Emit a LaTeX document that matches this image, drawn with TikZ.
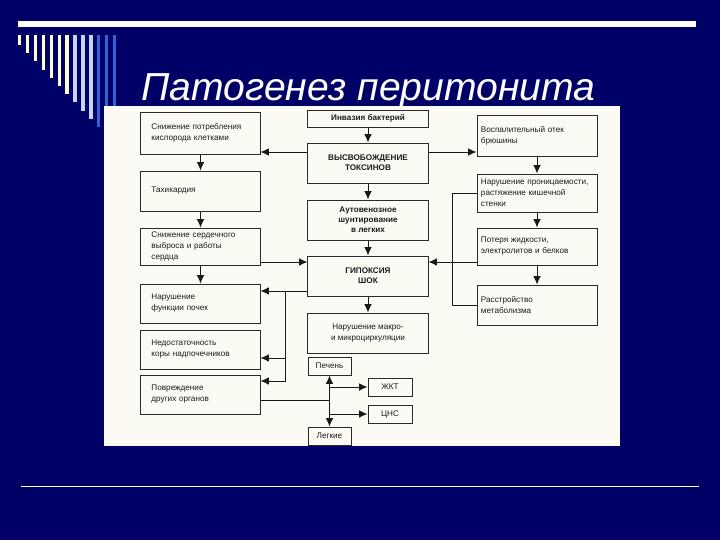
\documentclass[tikz,border=0pt]{standalone}
\usepackage{fontspec}
\setmainfont{Liberation Sans}
\usepackage{xcolor}
\usepackage{tikz}
\usetikzlibrary{arrows.meta}
\definecolor{navy}{HTML}{000066}
\definecolor{paper}{HTML}{FBFBF4}
\definecolor{creamBar}{HTML}{FFFFCC}
\definecolor{paleBlue}{HTML}{C8D4F4}
\definecolor{midBlue}{HTML}{2F63D8}
\definecolor{ink}{HTML}{1A1A1A}
\definecolor{rim}{HTML}{2A2A2A}
\tikzset{
  sbox/.style={draw=rim, line width=0.7pt, fill=paper, align=left, text width=2.45cm, inner xsep=0.2625cm,
    inner ysep=1pt, font=\fontsize{5.8}{7.8}\selectfont, text=ink},
  rbox/.style={sbox, text width=2.8cm, inner xsep=0.1cm},
  cbox/.style={draw=rim, line width=0.7pt, fill=paper, align=center, minimum width=3cm, inner sep=1pt,
    font=\fontsize{5.8}{7.2}\selectfont\bfseries, text=ink},
  tbox/.style={cbox, minimum width=1.1cm, minimum height=0.45cm, font=\fontsize{5.8}{7}\selectfont},
  arr/.style={-{Latex[length=6pt, width=5.5pt]}, draw=ink, line width=0.7pt},
  link/.style={draw=ink, line width=0.7pt},
}

\begin{document}
\begin{tikzpicture}[x=0.025cm, y=-0.025cm]
  % ---- slide: background, bars, stripes, title
  \fill[navy] (0,0) rectangle (720,540);
  \useasboundingbox (0,0) rectangle (720,540);
  \fill[white] (18,21) rectangle (696,26.5);
  \foreach \i/\c in {0/creamBar, 1/creamBar, 2/creamBar, 3/creamBar, 4/creamBar, 5/creamBar, 6/creamBar,
      7/paleBlue, 8/paleBlue, 9/paleBlue, 10/midBlue, 11/midBlue, 12/midBlue}
    \fill[\c] ({18+7.9*\i},35) rectangle ({21.4+7.9*\i},{45+8.2*\i});
  \node[anchor=base west, text=white, inner sep=0, font=\fontsize{27.8}{33}\selectfont\itshape] (title) at (141,100)
    {Патогенез перитонита};
  \fill[paper] (104,106) rectangle (620,446);
  \fill[white] (21,485.5) rectangle (699,487);
  % ---- left column
  \node[sbox, minimum height=1.05cm] (kisl) at (200.5,133) {Снижение потребления\\кислорода клетками};
  \node[sbox, minimum height=1cm] (tahi) at (200.5,191) {Тахикардия};
  \node[sbox, minimum height=0.925cm] (serd) at (200.5,246.5) {Снижение сердечного\\выброса и работы\\сердца};
  \node[sbox, minimum height=0.975cm] (poch) at (200.5,303.5) {Нарушение\\функции почек};
  \node[sbox, minimum height=0.975cm] (nadp) at (200.5,349.5) {Недостаточность\\коры надпочечников};
  \node[sbox, minimum height=0.975cm] (povr) at (200.5,394.5) {Повреждение\\других органов};
  % ---- middle column
  \node[cbox, minimum height=0.425cm] (inv) at (368,118.5) {Инвазия бактерий};
  \node[cbox, minimum height=1cm] (tox) at (368,163) {ВЫСВОБОЖДЕНИЕ\\ТОКСИНОВ};
  \node[cbox, minimum height=1cm] (auto) at (368,220) {Аутовенозное\\шунтирование\\в легких};
  \node[cbox, minimum height=1cm] (gip) at (368,276) {ГИПОКСИЯ\\ШОК};
  \node[cbox, minimum height=1cm, font=\fontsize{5.8}{7.8}\selectfont] (micro) at (368,333)
    {Нарушение макро-\\и микроциркуляции};
  \node[tbox, minimum width=1.075cm] (pech) at (329.5,366) {Печень};
  \node[tbox] (gkt) at (390,387) {ЖКТ};
  \node[tbox] (cns) at (390,414) {ЦНС};
  \node[tbox, minimum width=1.075cm] (legk) at (329.5,436) {Легкие};
  % ---- right column
  \node[rbox, minimum height=1.025cm] (otek) at (537,135.5) {Воспалительный отек\\брюшины};
  \node[rbox, minimum height=0.95cm] (pron) at (537,193) {Нарушение проницаемости,\\растяжение кишечной\\стенки};
  \node[rbox, minimum height=0.925cm] (poter) at (537,246.5) {Потеря жидкости,\\электролитов и белков};
  \node[rbox, minimum height=1cm] (rasstr) at (537,305) {Расстройство\\метаболизма};
  % ---- arrows
  \draw[arr] (inv) -- (tox);
  \draw[arr] (tox) -- (auto);
  \draw[arr] (auto) -- (gip);
  \draw[arr] (gip) -- (micro);
  \draw[arr] (tox.west |- 0,152) -- (kisl.east |- 0,152);
  \draw[arr] (tox.east |- 0,152) -- (otek.west |- 0,152);
  \draw[arr] (kisl) -- (tahi);
  \draw[arr] (tahi) -- (serd);
  \draw[arr] (serd) -- (poch);
  \draw[arr] (otek) -- (pron);
  \draw[arr] (pron) -- (poter);
  \draw[arr] (poter) -- (rasstr);
  \draw[arr] (serd.east |- 0,262) -- (gip.west |- 0,262);
  \draw[arr] (poter.west |- 0,262) -- (gip.east |- 0,262);
  \draw[link] (pron.west) -- ++(-24,0) |- (rasstr.west);
  \coordinate (fork) at (285,291);
  \draw[arr] (gip.west |- fork) -- (poch.east |- fork);
  \draw[arr] (fork) |- (nadp.east |- 0,358);
  \draw[arr] (fork) |- (povr.east |- 0,381);
  \coordinate (hub) at (329.5,400);
  \draw[link] (povr.east |- hub) -- (hub);
  \draw[arr] (hub) -- (pech);
  \draw[arr] (hub) -- (legk);
  \draw[arr] (pech.south |- 0,387) -- (gkt);
  \draw[arr] (pech.south |- 0,414) -- (cns);
\end{tikzpicture}
\end{document}
